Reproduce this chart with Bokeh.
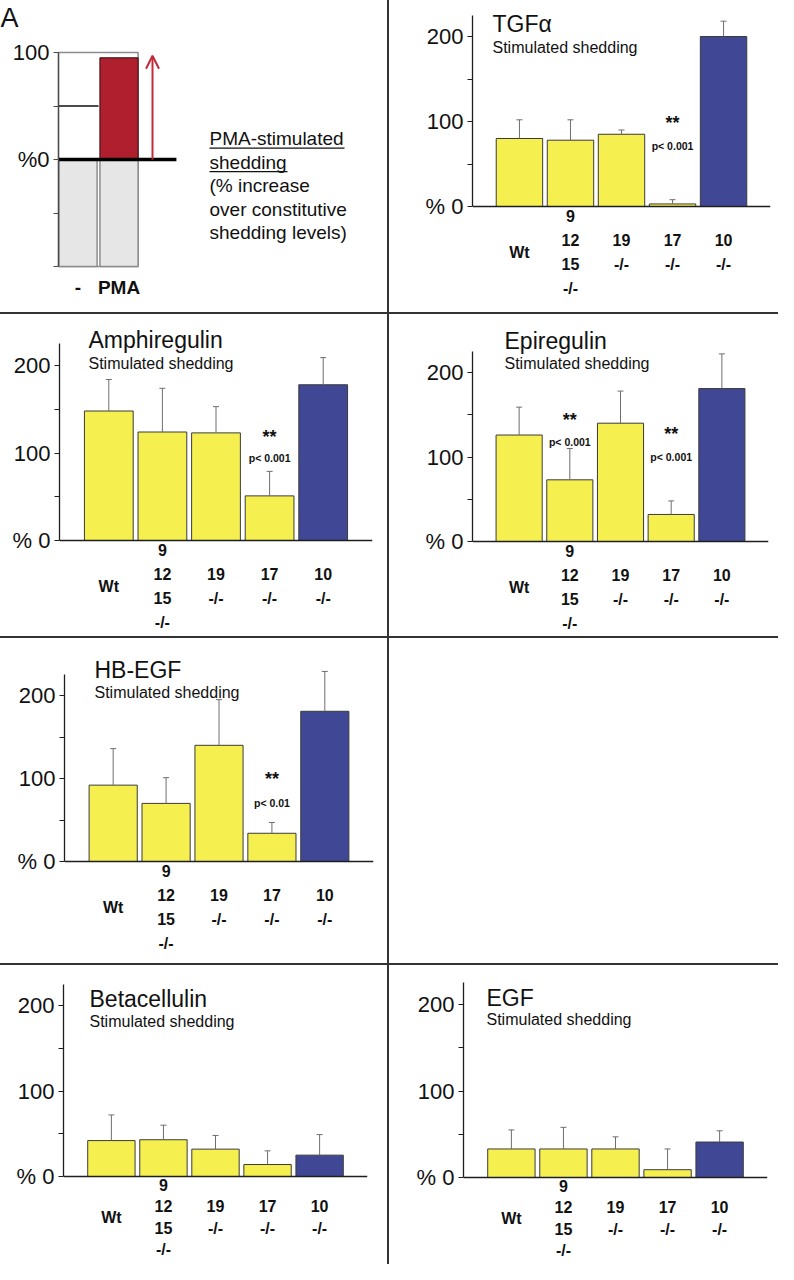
from bokeh.plotting import figure
from bokeh.layouts import column, row
from bokeh.models import (FactorRange, Range1d, FixedTicker, Span, Whisker, Div,
                          ColumnDataSource, Arrow, OpenHead, TeeHead, LinearAxis)
from bokeh.core.properties import value
from bokeh.embed import file_html
from bokeh.resources import INLINE

# ---------------- data ----------------
genotype_keys = ["Wt", "9/12/15", "19", "17", "10"]
genotype_labels = ["Wt", "9\n12\n15\n-/-", "19\n-/-", "17\n-/-", "10\n-/-"]
y_tick_values = [0, 50, 100, 150, 200]
y_tick_labels = {0: "% 0", 50: "", 100: "100", 150: "", 200: "200"}

tgfa_mean = [80, 78, 85, 3, 200]
tgfa_err = [22, 24, 5, 5, 18]
amph_mean = [148, 124, 123, 51, 178]
amph_err = [36, 50, 30, 28, 31]
epi_mean = [126, 73, 140, 32, 181]
epi_err = [33, 37, 38, 16, 41]
hbegf_mean = [92, 70, 140, 34, 181]
hbegf_err = [44, 31, 55, 13, 48]
btc_mean = [42, 43, 32, 14, 25]
btc_err = [30, 17, 16, 16, 24]
egf_mean = [33, 33, 33, 9, 41]
egf_err = [22, 25, 14, 24, 13]

# schematic panel
sch_cats = ["-", "PMA"]
sch_constitutive = [-100, -100]
sch_unstim_level = 50
sch_pma_increase = 95
sch_tick_values = [-100, -50, 0, 50, 100]
sch_tick_labels = {100: "100", 50: "", 0: "%0", -50: "", -100: ""}
sch_text = ["PMA-stimulated", "shedding", "(% increase", "over constitutive", "shedding levels)"]

# ---------------- style ----------------
FONT = "Liberation Sans"
YELLOW = "#F5EF4F"
BLUE = "#404896"
EDGE = "#3b3b3b"
ERR = "#6e6e6e"
AXIS = "#1e1e1e"
LINE = "#333333"
PAD = 0.42
BAR_W = 0.91


def base_fig(w, h, **kw):
    p = figure(width=w, height=h, output_backend="svg", toolbar_location=None,
               title=None, outline_line_color=None, background_fill_color="white",
               border_fill_color="white", **kw)
    p.grid.visible = False
    return p


def divider(w, h):
    return Div(text="", width=w, height=h, margin=0,
               styles={"background-color": LINE})


def style_yaxis(ax, ticks, overrides, bounds, color=AXIS):
    ax.ticker = FixedTicker(ticks=ticks)
    ax.major_label_overrides = overrides
    ax.bounds = bounds
    ax.minor_tick_line_color = None
    ax.major_tick_in = 0
    ax.major_tick_out = 5
    ax.major_tick_line_color = color
    ax.axis_line_color = color
    ax.axis_line_width = 1.3
    ax.major_label_text_font = FONT
    ax.major_label_text_font_size = "22px"
    ax.major_label_text_color = "#111111"
    ax.major_label_standoff = 4


def bar_panel(name, means, errs, sig, g):
    fl, ft, fw, fh = g["fig"]
    ax_x, ax_r, z, ppu = g["axis"], g["right"], g["zero"], g["ppu"]
    p = base_fig(fw, fh,
                 x_range=FactorRange(factors=genotype_keys, range_padding=PAD,
                                     range_padding_units="absolute"),
                 y_range=Range1d(-(ft + fh - z) / ppu, (z - ft) / ppu),
                 x_axis_location=None, min_border=0,
                 min_border_left=int(round(ax_x - fl)),
                 min_border_right=int(round(fl + fw - ax_r)))
    style_yaxis(p.yaxis[0], y_tick_values, y_tick_labels, (0, 225))

    src = ColumnDataSource(dict(
        cat=genotype_keys, mean=means,
        upper=[m + e for m, e in zip(means, errs)],
        label=genotype_labels,
        color=[YELLOW] * (len(means) - 1) + [BLUE]))
    p.vbar(x="cat", top="mean", bottom=0, width=BAR_W, fill_color="color",
           line_color=EDGE, line_width=1, source=src)
    p.add_layout(Whisker(base="cat", upper="upper", lower="mean", source=src,
                         dimension="height", line_color=ERR, line_width=1,
                         upper_head=TeeHead(size=6, line_color=ERR, line_width=1),
                         lower_head=None, level="glyph"))
    p.add_layout(Span(location=0, dimension="width", line_color=AXIS, line_width=1.3))
    p.text(x="cat", y=0, text="label", source=src, y_offset=g.get("lab_off", 46),
           text_align="center", text_baseline="middle", text_font=value(FONT),
           text_font_style="bold", text_font_size="16px",
           text_line_height=g.get("lab_lh", 1.43), text_color="#111111")

    frame_w = ax_r - ax_x
    pitch = frame_w / (len(genotype_keys) + 2 * PAD)
    first_c = ax_x + (0.5 + PAD) * pitch
    xoff = g["title_x"] - first_c
    p.text(x=[genotype_keys[0]], y=[(z - g["title_cy"]) / ppu], text=[name],
           x_offset=xoff, text_align="left", text_baseline="middle",
           text_font=value(FONT), text_font_size="23px", text_color="#111111")
    p.text(x=[genotype_keys[0]], y=[(z - g["sub_cy"]) / ppu], text=["Stimulated shedding"],
           x_offset=xoff, text_align="left", text_baseline="middle",
           text_font=value(FONT), text_font_size="16px", text_color="#111111")
    for idx, star_y, p_y, ptxt in sig:
        p.text(x=[genotype_keys[idx]], y=[star_y], text=["**"], y_offset=4,
               text_align="center", text_baseline="middle", text_font=value(FONT),
               text_font_style="bold", text_font_size="18px", text_color="#111111")
        p.text(x=[genotype_keys[idx]], y=[p_y], text=[ptxt],
               text_align="center", text_baseline="middle", text_font=value(FONT),
               text_font_style="bold", text_font_size="10.5px", text_color="#111111")
    return p


# ---------------- schematic ----------------
SCH_PPU_Y = 1.07
SCH_PPU_X = 41.0
SCH_AX = -0.476
sch = base_fig(387, 312, x_range=Range1d(SCH_AX - 58 / SCH_PPU_X, SCH_AX + (387 - 58) / SCH_PPU_X),
               y_range=Range1d(-(312 - 159) / SCH_PPU_Y, 159 / SCH_PPU_Y),
               x_axis_location=None, y_axis_location=None, min_border=0)
yax = LinearAxis(fixed_location=SCH_AX)
sch.add_layout(yax, "left")
style_yaxis(yax, sch_tick_values, sch_tick_labels, (-100, 100), color="#4a4a4a")
sx = list(range(len(sch_cats)))
sch.quad(left=[SCH_AX], right=[1.465], bottom=[-100], top=[100], fill_color="white",
         line_color="#8c8c8c", line_width=1.5)
sch.vbar(x=sx, top=0, bottom=sch_constitutive, width=0.93, fill_color="#e6e6e6",
         line_color="#8c8c8c", line_width=1.5)
sch.segment(x0=[SCH_AX], y0=[sch_unstim_level], x1=[0.5], y1=[sch_unstim_level],
            line_color="#111111", line_width=1.5)
sch.vbar(x=[sx[1]], top=[sch_pma_increase], bottom=0, width=0.93, fill_color="#B01F2E",
         line_color="#4a1518", line_width=1.2)
sch.segment(x0=[SCH_AX], y0=[0], x1=[2.40], y1=[0], line_color="#000000", line_width=3.5)
sch.add_layout(Arrow(x_start=1.817, y_start=0, x_end=1.817, y_end=sch_pma_increase + 2,
                     line_color="#C42A3A", line_width=2,
                     end=OpenHead(size=13, line_color="#C42A3A", line_width=2)))
sch.text(x=sx, y=-119.6, text=sch_cats, text_align="center", text_baseline="middle",
         text_font=value(FONT), text_font_style="bold", text_font_size="19px",
         text_color="#111111")
tx = 3.207
ty0 = 19.6
tpitch = 23.5 / SCH_PPU_Y
sch.text(x=[tx] * len(sch_text), y=[ty0 - i * tpitch for i in range(len(sch_text))],
         text=sch_text, text_align="left", text_baseline="middle",
         text_font=value(FONT), text_font_size="19px", text_color="#111111")
ul = 9.5 / SCH_PPU_Y
sch.segment(x0=[tx, tx], y0=[ty0 - ul, ty0 - tpitch - ul],
            x1=[tx + 135 / SCH_PPU_X, tx + 78 / SCH_PPU_X],
            y1=[ty0 - ul, ty0 - tpitch - ul], line_color="#111111", line_width=1.2)
sch.text(x=[SCH_AX - 58 / SCH_PPU_X], y=[(159 - 17) / SCH_PPU_Y], text=["A"],
         text_align="left", text_baseline="middle", text_font=value(FONT),
         text_font_size="27px", text_color="#111111")

# ---------------- panels ----------------
tgfa = bar_panel("TGF\u03b1", tgfa_mean, tgfa_err, [(3, 103.5, 70.6, "p< 0.001")],
                 dict(fig=(389, 0, 389, 312), axis=472, right=770, zero=206, ppu=0.85,
                      title_x=492, title_cy=23, sub_cy=47))
amph = bar_panel("Amphiregulin", amph_mean, amph_err, [(3, 123, 94, "p< 0.001")],
                 dict(fig=(0, 314, 387, 322), axis=59, right=372, zero=540, ppu=0.875,
                      title_x=88, title_cy=339, sub_cy=363))
epi = bar_panel("Epiregulin", epi_mean, epi_err,
                [(1, 149, 118, "p< 0.001"), (3, 132, 100, "p< 0.001")],
                dict(fig=(389, 314, 389, 322), axis=472, right=768, zero=541, ppu=0.845,
                     title_x=504, title_cy=340, sub_cy=363))
hbegf = bar_panel("HB-EGF", hbegf_mean, hbegf_err, [(3, 104, 71, "p< 0.01")],
                  dict(fig=(0, 638, 387, 325), axis=64, right=373, zero=861, ppu=0.83,
                       title_x=94, title_cy=669, sub_cy=692))
btc = bar_panel("Betacellulin", btc_mean, btc_err, [],
                dict(fig=(0, 965, 387, 299), axis=63, right=367, zero=1176, ppu=0.855,
                     title_x=89, title_cy=998, sub_cy=1021, lab_off=41, lab_lh=1.25))
egf = bar_panel("EGF", egf_mean, egf_err, [],
                dict(fig=(389, 965, 389, 299), axis=463, right=767, zero=1177, ppu=0.865,
                     title_x=486, title_cy=997, sub_cy=1019, lab_off=41, lab_lh=1.25))
empty = base_fig(389, 325, x_axis_location=None, y_axis_location=None, min_border=0,
                 x_range=Range1d(0, 1), y_range=Range1d(0, 1))

layout = column(
    row(sch, divider(2, 312), tgfa),
    divider(778, 2),
    row(amph, divider(2, 322), epi),
    divider(778, 2),
    row(hbegf, divider(2, 325), empty),
    divider(778, 2),
    row(btc, divider(2, 299), egf),
)

open("out.html", "w").write(file_html(layout, INLINE))
